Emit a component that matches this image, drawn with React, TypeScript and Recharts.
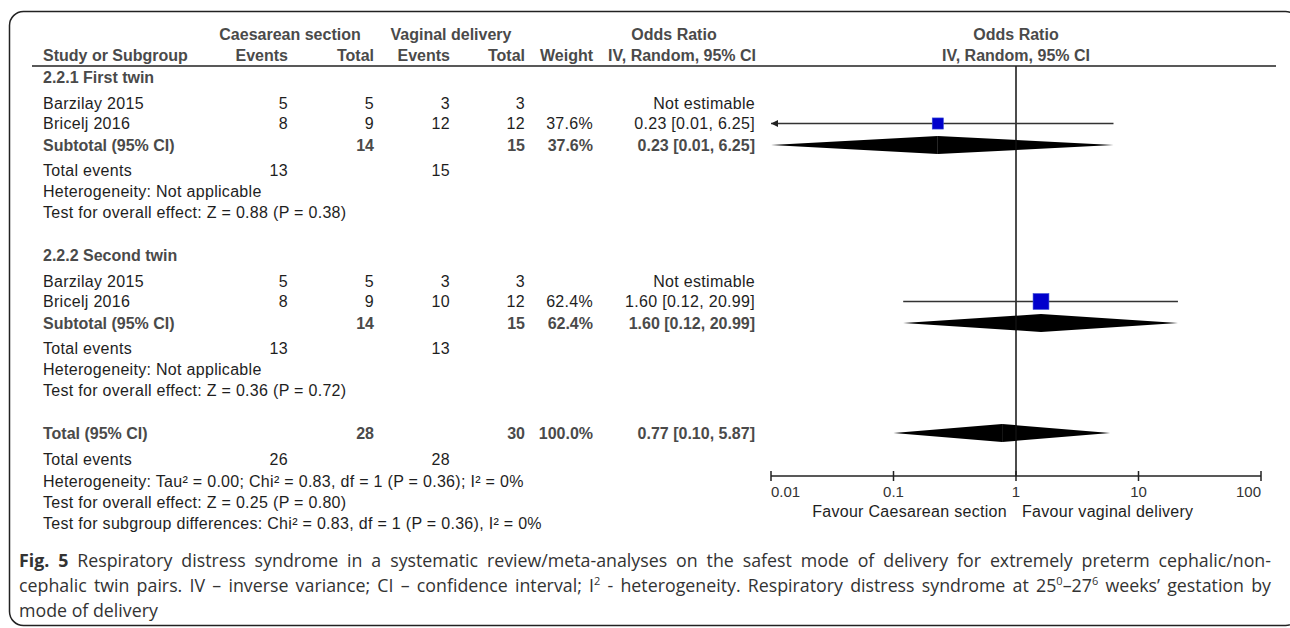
import React from "react";
import {
  ComposedChart,
  XAxis,
  YAxis,
  Scatter,
  ReferenceLine,
  ReferenceArea,
  ReferenceDot,
} from "recharts";

// ---- data ----
const SUBGROUPS = ["2.2.1 First twin", "2.2.2 Second twin"];
const STUDIES = ["Barzilay 2015", "Bricelj 2016"];

// [subgroup][study]
const CS_EVENTS = [[5, 8], [5, 8]];
const CS_TOTAL = [[5, 9], [5, 9]];
const VD_EVENTS = [[3, 12], [3, 10]];
const VD_TOTAL = [[3, 12], [3, 12]];
const STUDY_WEIGHT: (number | null)[][] = [[null, 37.6], [null, 62.4]];
const STUDY_OR: (number | null)[][] = [[null, 0.23], [null, 1.6]];
const STUDY_LO: (number | null)[][] = [[null, 0.01], [null, 0.12]];
const STUDY_HI: (number | null)[][] = [[null, 6.25], [null, 20.99]];

// subtotals, one per subgroup
const SUB_CS_TOTAL = [14, 14];
const SUB_VD_TOTAL = [15, 15];
const SUB_WEIGHT = [37.6, 62.4];
const SUB_OR = [0.23, 1.6];
const SUB_LO = [0.01, 0.12];
const SUB_HI = [6.25, 20.99];
const SUB_CS_EVENTS = [13, 13];
const SUB_VD_EVENTS = [15, 13];
const SUB_HET = ["Heterogeneity: Not applicable", "Heterogeneity: Not applicable"];
const SUB_TEST = [
  "Test for overall effect: Z = 0.88 (P = 0.38)",
  "Test for overall effect: Z = 0.36 (P = 0.72)",
];

// overall
const TOTAL_N = [28, 30]; // caesarean, vaginal
const TOTAL_EVENTS = [26, 28];
const TOTAL_WEIGHT = 100;
const TOTAL_EST = [0.77, 0.1, 5.87]; // OR, lo, hi
const TOTAL_NOTES = [
  "Heterogeneity: Tau² = 0.00; Chi² = 0.83, df = 1 (P = 0.36); I² = 0%",
  "Test for overall effect: Z = 0.25 (P = 0.80)",
  "Test for subgroup differences: Chi² = 0.83, df = 1 (P = 0.36), I² = 0%",
];

const AXIS_TICKS = [0.01, 0.1, 1, 10, 100];
const AXIS_LABELS = ["0.01", "0.1", "1", "10", "100"];
const FAVOUR = ["Favour Caesarean section", "Favour vaginal delivery"];

// ---- layout ----
const W = 1290;
const H = 628;
const PLOT_TOP = 66;
const PLOT_BOTTOM = 476;
const PLOT_LEFT = 771;
const PLOT_RIGHT = 1261;
const X_AXIS_H = 40;
const Y_MAX = 41; // row units inside the plot
const px = (u: number) => PLOT_TOP + (u / Y_MAX) * (PLOT_BOTTOM - PLOT_TOP);

const SG_BASE = [1.1, 18.9];
const OFF = { study: [2.6, 4.65], sub: 6.8, events: 9.3, het: 11.4, test: 13.5 };
const TOT_ROWS = [36.7, 39.3, 41.5, 43.6, 45.7];
const DIAMOND_H = 0.9; // half height, row units

const COL = {
  name: 43,
  csEv: 288,
  csTot: 374,
  vdEv: 450,
  vdTot: 525,
  weight: 593,
  ci: 755,
};

const INK = "#1e1e1e";
const BOLD_INK = "#4a4a4a";
const FONT = "'Liberation Sans', Arial, sans-serif";

const fmtCI = (or: number, lo: number, hi: number) =>
  `${or.toFixed(2)} [${lo.toFixed(2)}, ${hi.toFixed(2)}]`;
const fmtW = (w: number) => `${w.toFixed(1)}%`;
const markerSize = (w: number) => 4 + (19 * w) / 100;

function T({
  x,
  y,
  children,
  anchor = "start",
  bold = false,
  size = 16,
}: {
  x: number;
  y: number;
  children: React.ReactNode;
  anchor?: "start" | "middle" | "end";
  bold?: boolean;
  size?: number;
}) {
  return (
    <text
      x={x}
      y={y + 5.5}
      textAnchor={anchor}
      fontFamily={FONT}
      fontSize={size}
      fontWeight={bold ? 700 : 400}
      letterSpacing={bold ? 0 : 0.3}
      fill={bold ? BOLD_INK : INK}
    >
      {children}
    </text>
  );
}

function AxisTick(props: any) {
  const { x, y, index } = props;
  const last = AXIS_TICKS.length - 1;
  const anchor = index === 0 ? "start" : index === last ? "end" : "middle";
  return (
    <g>
      <line x1={x} x2={x} y1={y - 5} y2={y + 5} stroke="#222" strokeWidth={1.5} />
      <text x={x} y={y + 21} textAnchor={anchor} fontFamily={FONT} fontSize={15} fill="#333">
        {AXIS_LABELS[index]}
      </text>
    </g>
  );
}

export default function App() {
  const points: { x: number; y: number; w: number }[] = [];
  const ciLines: { lo: number; hi: number; y: number }[] = [];
  SUBGROUPS.forEach((_, i) => {
    STUDIES.forEach((__, j) => {
      const or = STUDY_OR[i][j];
      if (or == null) return;
      const y = SG_BASE[i] + OFF.study[j];
      points.push({ x: or, y, w: STUDY_WEIGHT[i][j] as number });
      ciLines.push({ lo: STUDY_LO[i][j] as number, hi: STUDY_HI[i][j] as number, y });
    });
  });

  const diamonds = [
    ...SUBGROUPS.map((_, i) => ({
      est: SUB_OR[i],
      lo: SUB_LO[i],
      hi: SUB_HI[i],
      y: SG_BASE[i] + OFF.sub,
    })),
    { est: TOTAL_EST[0], lo: TOTAL_EST[1], hi: TOTAL_EST[2], y: TOT_ROWS[0] },
  ];

  const sup = { fontSize: 11, lineHeight: 0 } as React.CSSProperties;

  return (
    <div style={{ position: "absolute", left: 0, top: 0, width: W, height: H, background: "#fff" }}>
      <ComposedChart
        width={W}
        height={H}
        margin={{
          top: PLOT_TOP,
          right: W - PLOT_RIGHT,
          bottom: H - PLOT_BOTTOM - X_AXIS_H,
          left: PLOT_LEFT,
        }}
      >
        <XAxis
          type="number"
          dataKey="x"
          scale="log"
          domain={[0.01, 100]}
          ticks={AXIS_TICKS}
          allowDataOverflow
          interval={0}
          height={X_AXIS_H}
          tickLine={false}
          tickSize={0}
          tickMargin={0}
          axisLine={{ stroke: "#222", strokeWidth: 1.5 }}
          tick={(p: any) => <AxisTick {...p} />}
        />
        <YAxis type="number" dataKey="y" domain={[0, Y_MAX]} reversed hide width={0} />

        <ReferenceLine x={1} stroke="#111" strokeWidth={1.5} ifOverflow="visible" />

        {ciLines.map((c, k) => (
          <ReferenceLine
            key={`ci-${k}`}
            segment={[
              { x: Math.max(c.lo, 0.01), y: c.y },
              { x: Math.min(c.hi, 100), y: c.y },
            ]}
            stroke="#333"
            strokeWidth={1.5}
            ifOverflow="visible"
          />
        ))}
        {ciLines
          .filter((c) => c.lo <= 0.01)
          .map((c, k) => (
            <ReferenceDot
              key={`arrow-${k}`}
              x={0.01}
              y={c.y}
              ifOverflow="visible"
              shape={(p: any) => (
                <polygon
                  points={`${p.cx},${p.cy} ${p.cx + 7},${p.cy - 3.5} ${p.cx + 7},${p.cy + 3.5}`}
                  fill="#222"
                />
              )}
            />
          ))}

        {diamonds.map((d, k) => (
          <ReferenceArea
            key={`dl-${k}`}
            x1={d.lo}
            x2={d.est}
            y1={d.y - DIAMOND_H}
            y2={d.y + DIAMOND_H}
            ifOverflow="visible"
            shape={(p: any) => (
              <polygon
                points={`${p.x},${p.y + p.height / 2} ${p.x + p.width},${p.y} ${p.x + p.width},${p.y + p.height}`}
                fill="#000"
              />
            )}
          />
        ))}
        {diamonds.map((d, k) => (
          <ReferenceArea
            key={`dr-${k}`}
            x1={d.est}
            x2={d.hi}
            y1={d.y - DIAMOND_H}
            y2={d.y + DIAMOND_H}
            ifOverflow="visible"
            shape={(p: any) => (
              <polygon
                points={`${p.x},${p.y} ${p.x + p.width},${p.y + p.height / 2} ${p.x},${p.y + p.height}`}
                fill="#000"
              />
            )}
          />
        ))}

        <Scatter
          data={points}
          isAnimationActive={false}
          shape={(p: any) => {
            const s = markerSize(p.payload.w);
            return (
              <rect
                x={p.cx - s / 2}
                y={p.cy - s / 2}
                width={s}
                height={s}
                fill="#0000cc"
                stroke="#3a4fd8"
                strokeWidth={0.6}
              />
            );
          }}
        />
      </ComposedChart>

      {/* table text + frame */}
      <svg
        width={W}
        height={H}
        style={{ position: "absolute", left: 0, top: 0, pointerEvents: "none" }}
      >
        <rect x={9.5} y={11.5} width={1290} height={614} rx={14} fill="none" stroke="#222" strokeWidth={1.5} />

        {/* headers */}
        <T x={290} y={34} anchor="middle" bold>Caesarean section</T>
        <T x={451} y={34} anchor="middle" bold>Vaginal delivery</T>
        <T x={674} y={34} anchor="middle" bold>Odds Ratio</T>
        <T x={1016} y={34} anchor="middle" bold>Odds Ratio</T>
        <T x={COL.name} y={55} bold>Study or Subgroup</T>
        <T x={COL.csEv} y={55} anchor="end" bold>Events</T>
        <T x={COL.csTot} y={55} anchor="end" bold>Total</T>
        <T x={COL.vdEv} y={55} anchor="end" bold>Events</T>
        <T x={COL.vdTot} y={55} anchor="end" bold>Total</T>
        <T x={COL.weight} y={55} anchor="end" bold>Weight</T>
        <T x={COL.ci + 1} y={55} anchor="end" bold>IV, Random, 95% CI</T>
        <T x={1016} y={55} anchor="middle" bold>IV, Random, 95% CI</T>
        <line x1={32} x2={1276} y1={66} y2={66} stroke="#222" strokeWidth={1.5} />

        {SUBGROUPS.map((sg, i) => {
          const b = SG_BASE[i];
          return (
            <g key={sg}>
              <T x={COL.name} y={px(b)} bold>{sg}</T>
              {STUDIES.map((st, j) => {
                const y = px(b + OFF.study[j]);
                const or = STUDY_OR[i][j];
                return (
                  <g key={st}>
                    <T x={COL.name} y={y}>{st}</T>
                    <T x={COL.csEv} y={y} anchor="end">{CS_EVENTS[i][j]}</T>
                    <T x={COL.csTot} y={y} anchor="end">{CS_TOTAL[i][j]}</T>
                    <T x={COL.vdEv} y={y} anchor="end">{VD_EVENTS[i][j]}</T>
                    <T x={COL.vdTot} y={y} anchor="end">{VD_TOTAL[i][j]}</T>
                    {STUDY_WEIGHT[i][j] != null && (
                      <T x={COL.weight} y={y} anchor="end">{fmtW(STUDY_WEIGHT[i][j] as number)}</T>
                    )}
                    <T x={COL.ci} y={y} anchor="end">
                      {or == null
                        ? "Not estimable"
                        : fmtCI(or, STUDY_LO[i][j] as number, STUDY_HI[i][j] as number)}
                    </T>
                  </g>
                );
              })}
              <T x={COL.name} y={px(b + OFF.sub)} bold>Subtotal (95% CI)</T>
              <T x={COL.csTot} y={px(b + OFF.sub)} anchor="end" bold>{SUB_CS_TOTAL[i]}</T>
              <T x={COL.vdTot} y={px(b + OFF.sub)} anchor="end" bold>{SUB_VD_TOTAL[i]}</T>
              <T x={COL.weight} y={px(b + OFF.sub)} anchor="end" bold>{fmtW(SUB_WEIGHT[i])}</T>
              <T x={COL.ci} y={px(b + OFF.sub)} anchor="end" bold>
                {fmtCI(SUB_OR[i], SUB_LO[i], SUB_HI[i])}
              </T>
              <T x={COL.name} y={px(b + OFF.events)}>Total events</T>
              <T x={COL.csEv} y={px(b + OFF.events)} anchor="end">{SUB_CS_EVENTS[i]}</T>
              <T x={COL.vdEv} y={px(b + OFF.events)} anchor="end">{SUB_VD_EVENTS[i]}</T>
              <T x={COL.name} y={px(b + OFF.het)}>{SUB_HET[i]}</T>
              <T x={COL.name} y={px(b + OFF.test)}>{SUB_TEST[i]}</T>
            </g>
          );
        })}

        <T x={COL.name} y={px(TOT_ROWS[0])} bold>Total (95% CI)</T>
        <T x={COL.csTot} y={px(TOT_ROWS[0])} anchor="end" bold>{TOTAL_N[0]}</T>
        <T x={COL.vdTot} y={px(TOT_ROWS[0])} anchor="end" bold>{TOTAL_N[1]}</T>
        <T x={COL.weight} y={px(TOT_ROWS[0])} anchor="end" bold>{fmtW(TOTAL_WEIGHT)}</T>
        <T x={COL.ci} y={px(TOT_ROWS[0])} anchor="end" bold>
          {fmtCI(TOTAL_EST[0], TOTAL_EST[1], TOTAL_EST[2])}
        </T>
        <T x={COL.name} y={px(TOT_ROWS[1])}>Total events</T>
        <T x={COL.csEv} y={px(TOT_ROWS[1])} anchor="end">{TOTAL_EVENTS[0]}</T>
        <T x={COL.vdEv} y={px(TOT_ROWS[1])} anchor="end">{TOTAL_EVENTS[1]}</T>
        {TOTAL_NOTES.map((n, k) => (
          <T key={n} x={COL.name} y={px(TOT_ROWS[2 + k])}>{n}</T>
        ))}

        <T x={1007} y={511} anchor="end">{FAVOUR[0]}</T>
        <T x={1022} y={511}>{FAVOUR[1]}</T>
      </svg>

      {/* caption */}
      <div
        style={{
          position: "absolute",
          left: 19,
          top: 548,
          width: 1252,
          fontFamily: "'Open Sans', sans-serif",
          fontSize: 17.8,
          lineHeight: "25px",
          color: "#333",
        }}
      >
        <div style={{ textAlign: "justify", textAlignLast: "justify", whiteSpace: "nowrap" }}>
          <b>Fig. 5</b> Respiratory distress syndrome in a systematic review/meta-analyses on the safest mode of delivery for extremely preterm cephalic/non-
        </div>
        <div style={{ textAlign: "justify", textAlignLast: "justify", whiteSpace: "nowrap" }}>
          cephalic twin pairs. IV – inverse variance; CI – confidence interval; I<sup style={sup}>2</sup> - heterogeneity. Respiratory distress syndrome at 25<sup style={sup}>0</sup>–27<sup style={sup}>6</sup> weeks’ gestation by
        </div>
        <div>mode of delivery</div>
      </div>
    </div>
  );
}
